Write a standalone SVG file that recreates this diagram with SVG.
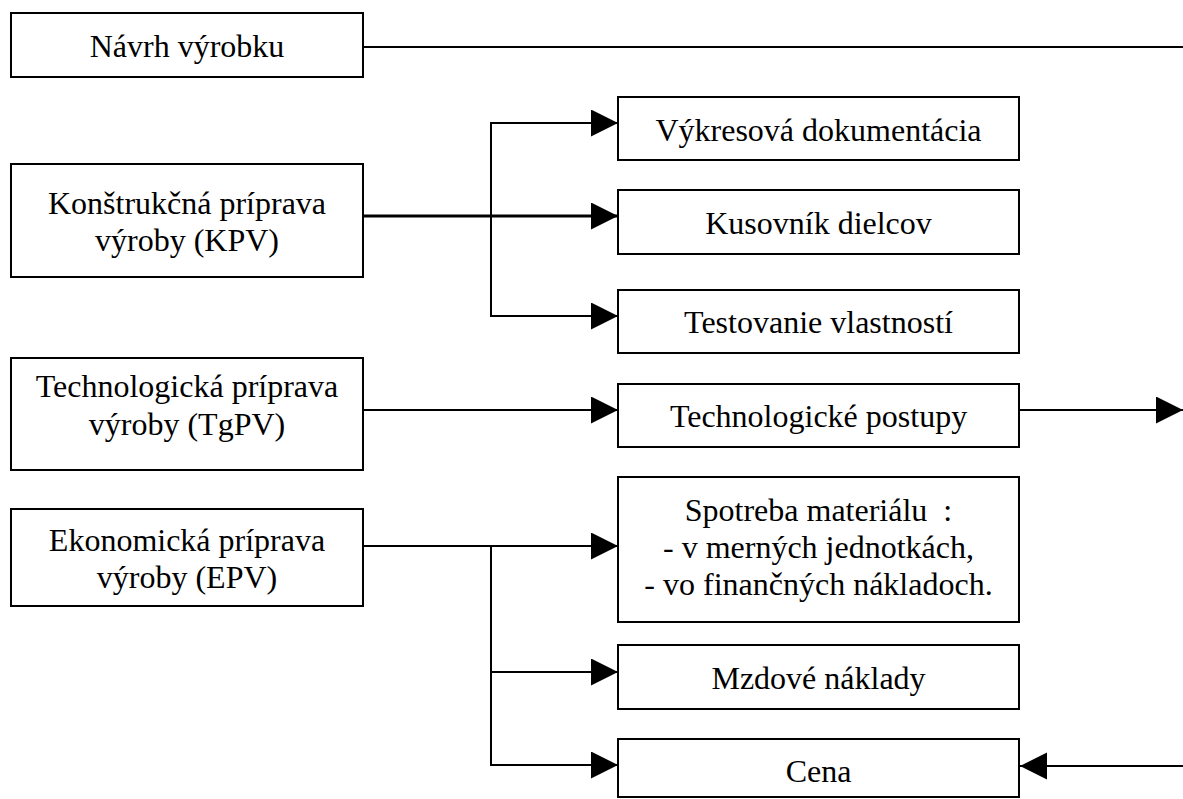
<svg xmlns="http://www.w3.org/2000/svg" width="1183" height="799" viewBox="0 0 1183 799">
  <style>
    .box { fill: #ffffff; stroke: #000000; stroke-width: 2; }
    .lbl { font-family: "Liberation Serif", "Times New Roman", serif; font-size: 32px; fill: #000000; text-anchor: middle; }
    .con { fill: none; stroke: #000000; stroke-width: 2; }
    .thick { stroke-width: 3; }
  </style>
  <defs>
    <marker id="arrow" markerUnits="userSpaceOnUse" markerWidth="28" markerHeight="28" refX="27" refY="13.5" orient="auto">
      <path d="M0,0 L27,13.5 L0,27 Z" fill="#000000"/>
    </marker>
  </defs>
  <rect x="0" y="0" width="1183" height="799" fill="#ffffff"/>

  <g id="connectors">
    <line class="con" x1="363" y1="47" x2="1183" y2="47"/>
    <line class="con thick" x1="363" y1="216" x2="618" y2="216" marker-end="url(#arrow)"/>
    <line class="con" x1="491" y1="123" x2="491" y2="316"/>
    <line class="con" x1="490" y1="123" x2="618" y2="123" marker-end="url(#arrow)"/>
    <line class="con" x1="490" y1="316" x2="618" y2="316" marker-end="url(#arrow)"/>
    <line class="con" x1="363" y1="410" x2="618" y2="410" marker-end="url(#arrow)"/>
    <line class="con" x1="1019" y1="410" x2="1183" y2="410" marker-end="url(#arrow)"/>
    <line class="con" x1="363" y1="546" x2="618" y2="546" marker-end="url(#arrow)"/>
    <line class="con" x1="491" y1="546" x2="491" y2="766"/>
    <line class="con" x1="490" y1="672" x2="618" y2="672" marker-end="url(#arrow)"/>
    <line class="con" x1="490" y1="765" x2="618" y2="765" marker-end="url(#arrow)"/>
    <line class="con" x1="1183" y1="766" x2="1020" y2="766" marker-end="url(#arrow)"/>
  </g>

  <g id="navrh">
    <rect class="box" x="11" y="13" width="352" height="64"/>
    <text class="lbl" x="187" y="57">Návrh výrobku</text>
  </g>
  <g id="kpv">
    <rect class="box" x="11" y="164" width="352" height="113"/>
    <text class="lbl" x="187" y="214">Konštrukčná príprava</text>
    <text class="lbl" x="187" y="251">výroby (KPV)</text>
  </g>
  <g id="tgpv">
    <rect class="box" x="11" y="358" width="352" height="112"/>
    <text class="lbl" x="187" y="397">Technologická príprava</text>
    <text class="lbl" x="187" y="435">výroby (TgPV)</text>
  </g>
  <g id="epv">
    <rect class="box" x="11" y="509" width="352" height="97"/>
    <text class="lbl" x="187" y="551">Ekonomická príprava</text>
    <text class="lbl" x="187" y="588">výroby (EPV)</text>
  </g>
  <g id="vykresova">
    <rect class="box" x="618" y="97" width="401" height="63"/>
    <text class="lbl" x="818.5" y="141">Výkresová dokumentácia</text>
  </g>
  <g id="kusovnik">
    <rect class="box" x="618" y="190" width="401" height="64"/>
    <text class="lbl" x="818.5" y="234">Kusovník dielcov</text>
  </g>
  <g id="testovanie">
    <rect class="box" x="618" y="290" width="401" height="63"/>
    <text class="lbl" x="818.5" y="333">Testovanie vlastností</text>
  </g>
  <g id="postupy">
    <rect class="box" x="618" y="384" width="401" height="63"/>
    <text class="lbl" x="818.5" y="427">Technologické postupy</text>
  </g>
  <g id="spotreba">
    <rect class="box" x="618" y="477" width="401" height="145"/>
    <text class="lbl" x="818.5" y="521" xml:space="preserve">Spotreba materiálu  :</text>
    <text class="lbl" x="818.5" y="558">- v merných jednotkách,</text>
    <text class="lbl" x="818.5" y="595">- vo finančných nákladoch.</text>
  </g>
  <g id="mzdove">
    <rect class="box" x="618" y="645" width="401" height="64"/>
    <text class="lbl" x="818.5" y="689">Mzdové náklady</text>
  </g>
  <g id="cena">
    <rect class="box" x="618" y="739" width="401" height="58"/>
    <text class="lbl" x="818.5" y="782">Cena</text>
  </g>
</svg>
